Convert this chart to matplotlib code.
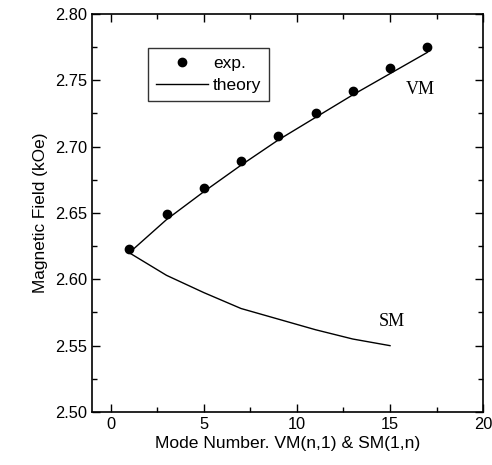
import matplotlib
matplotlib.use("Agg")
import matplotlib.pyplot as plt
from matplotlib.ticker import MultipleLocator, FormatStrFormatter

# Data
exp_n = [1, 3, 5, 7, 9, 11, 13, 15, 17]
exp_field = [2.623, 2.649, 2.669, 2.689, 2.708, 2.725, 2.742, 2.759, 2.775]

vm_n = [1, 3, 5, 7, 9, 11, 13, 15, 17]
vm_theory = [2.620, 2.645, 2.666, 2.686, 2.705, 2.722, 2.739, 2.755, 2.771]

sm_n = [1, 3, 5, 7, 9, 11, 13, 15]
sm_theory = [2.620, 2.603, 2.590, 2.578, 2.570, 2.562, 2.555, 2.550]

xlabel = "Mode Number. VM(n,1) & SM(1,n)"
ylabel = "Magnetic Field (kOe)"

plt.rcParams['font.family'] = ['Liberation Sans', 'DejaVu Sans']

fig = plt.figure(figsize=(4.92, 4.65), dpi=100)
ax = fig.add_axes([0.187, 0.114, 0.795, 0.856])

ax.plot(vm_n, vm_theory, color='black', lw=1.0, label='theory')
ax.plot(sm_n, sm_theory, color='black', lw=1.0)
ax.plot(exp_n, exp_field, 'o', color='black', ms=6, label='exp.')

ax.set_xlim(-1, 20)
ax.set_ylim(2.50, 2.80)
ax.xaxis.set_major_locator(MultipleLocator(5))
ax.xaxis.set_minor_locator(MultipleLocator(2.5))
ax.yaxis.set_major_locator(MultipleLocator(0.05))
ax.yaxis.set_minor_locator(MultipleLocator(0.025))
ax.yaxis.set_major_formatter(FormatStrFormatter('%.2f'))
ax.tick_params(which='both', direction='in', top=True, right=True, labelsize=11.8)
ax.tick_params(which='major', length=6, width=1)
ax.tick_params(which='minor', length=3.5, width=1)
for s in ax.spines.values():
    s.set_linewidth(1.2)

ax.set_xlabel(xlabel, fontsize=12.6, labelpad=3)
ax.set_ylabel(ylabel, fontsize=12.4, labelpad=5)

ax.text(16.6, 2.743, 'VM', family='Liberation Serif', fontsize=13, ha='center', va='center')
ax.text(15.07, 2.568, 'SM', family='Liberation Serif', fontsize=13, ha='center', va='center')

handles, labels = ax.get_legend_handles_labels()
leg = ax.legend([handles[1], handles[0]], [labels[1], labels[0]],
                loc='upper left', bbox_to_anchor=(0.143, 0.915),
                fontsize=12.5, frameon=True, fancybox=False, edgecolor='black',
                borderaxespad=0, handlelength=3.0, handletextpad=0.3,
                borderpad=0.45, labelspacing=0.4)
leg.get_frame().set_linewidth(1.0)

fig.savefig('out.png', dpi=100)
